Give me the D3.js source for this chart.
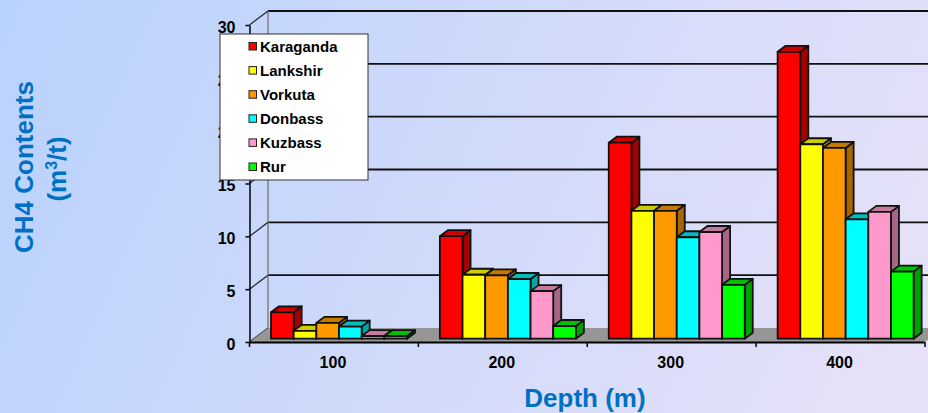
<!DOCTYPE html>
<html>
<head>
<meta charset="utf-8">
<script src="https://cdn.jsdelivr.net/npm/d3@7"></script>
<style>
html, body { margin: 0; padding: 0; overflow: hidden; }
text { font-family: "Liberation Sans", Arial, sans-serif; font-weight: bold; }
</style>
</head>
<body>
<div id="chart"></div>
<script>
var depths = ['100', '200', '300', '400'];
var basins = ['Karaganda', 'Lankshir', 'Vorkuta', 'Donbass', 'Kuzbass', 'Rur'];
var yTicks = [0, 5, 10, 15, 20, 25, 30];

var karaganda = [2.5, 9.7, 18.55, 27.15];
var lankshir = [0.75, 6.05, 12.1, 18.4];
var vorkuta = [1.5, 6.0, 12.1, 18.05];
var donbass = [1.15, 5.65, 9.6, 11.3];
var kuzbass = [0.25, 4.5, 10.1, 12.0];
var rur = [0.25, 1.2, 5.1, 6.35];
var seriesValues = [karaganda, lankshir, vorkuta, donbass, kuzbass, rur];

var fronts = ['#ff0000', '#ffff00', '#ff9900', '#00ffff', '#ff99cc', '#00ff00'];
var tops = ['#cc0000', '#cccc00', '#c47a00', '#00bcbc', '#c47a9e', '#00c000'];
var sides = ['#a50000', '#a5a500', '#a86500', '#00a5a5', '#a66685', '#00a000'];

var width = 928, height = 413;
var wallDx = 18.5, wallDy = 14;   // floor depth of the 3d box
var barDx = 8, barDy = 6;         // depth of a single bar

var x = d3.scaleBand().domain(depths).range([249.5, 925]);
var xBar = d3.scaleBand().domain(basins).range([0, 136]);
var y = d3.scaleLinear().domain([0, 30]).range([342, 25]);

var svg = d3.select('#chart').append('svg')
    .attr('width', width)
    .attr('height', height)
    .style('display', 'block');

var grad = svg.append('defs').append('linearGradient')
    .attr('id', 'bg')
    .attr('gradientUnits', 'userSpaceOnUse')
    .attr('x1', 0).attr('y1', 0)
    .attr('x2', width).attr('y2', height);
grad.append('stop').attr('offset', '0%').attr('stop-color', '#b9d2fd');
grad.append('stop').attr('offset', '100%').attr('stop-color', '#e8e2f8');

svg.append('rect')
    .attr('width', width)
    .attr('height', height)
    .attr('fill', 'url(#bg)');

// back wall lines
var wall = svg.append('g');
wall.selectAll('line.grid')
    .data(yTicks.slice(1))
    .enter()
    .append('line')
    .attr('class', 'grid')
    .attr('x1', 249.5 + wallDx)
    .attr('x2', width)
    .attr('y1', function(d) { return y(d) - wallDy; })
    .attr('y2', function(d) { return y(d) - wallDy; })
    .attr('stroke', '#111')
    .attr('stroke-width', 1.8);

wall.append('line')
    .attr('x1', 249.5 + wallDx).attr('x2', 249.5 + wallDx)
    .attr('y1', y(30) - wallDy).attr('y2', y(0) - wallDy)
    .attr('stroke', '#808080')
    .attr('stroke-width', 1.5);

// side wall diagonals
wall.selectAll('line.diag')
    .data(yTicks)
    .enter()
    .append('line')
    .attr('class', 'diag')
    .attr('x1', 249.5)
    .attr('x2', 249.5 + wallDx)
    .attr('y1', function(d) { return y(d); })
    .attr('y2', function(d) { return y(d) - wallDy; })
    .attr('stroke', '#222')
    .attr('stroke-width', 1.2);

// floor
var floorPts = [[249.5, y(0)], [925, y(0)], [925 + wallDx, y(0) - wallDy], [249.5 + wallDx, y(0) - wallDy]];
svg.append('path')
    .attr('d', d3.line()(floorPts) + 'Z')
    .attr('fill', '#969696');

// axes
var yAxis = svg.append('g')
    .attr('transform', 'translate(249.5,0)')
    .call(d3.axisLeft(y).tickValues(yTicks).tickSize(4).tickSizeOuter(0).tickPadding(10));
yAxis.selectAll('path, line').attr('stroke', '#000').attr('stroke-width', 1.5);
yAxis.selectAll('text').attr('font-size', 16).attr('dy', '0.45em').attr('fill', '#000');

var xAxis = svg.append('g')
    .attr('transform', 'translate(-1,' + y(0) + ')')
    .call(d3.axisBottom(x).tickSize(0).tickPadding(15));
xAxis.select('.domain').attr('stroke', '#000').attr('stroke-width', 1.8);
xAxis.selectAll('text').attr('font-size', 16).attr('fill', '#000');

xAxis.selectAll('line.boundary')
    .data(depths.concat(['end']))
    .enter()
    .append('line')
    .attr('class', 'boundary')
    .attr('x1', function(d, i) { return 250.5 + i * x.step(); })
    .attr('x2', function(d, i) { return 250.5 + i * x.step(); })
    .attr('y1', 0)
    .attr('y2', 5)
    .attr('stroke', '#000')
    .attr('stroke-width', 1.5);

// bars, left to right so each front covers the side of the one before
var barInsetX = 21.5, barInsetY = 3.3;
var bars = svg.append('g');

basins.forEach(function(b, si) {
    seriesValues[si].forEach(function(v, di) {
        var x0 = x(depths[di]) + barInsetX + xBar(b);
        var w = xBar.bandwidth();
        var top = y(v) - barInsetY;
        var base = y(0) - barInsetY;
        var g = bars.append('g')
            .attr('stroke', '#111')
            .attr('stroke-width', 1.8)
            .attr('stroke-linejoin', 'round');

        g.append('path')
            .attr('fill', sides[si])
            .attr('d', d3.line()([[x0 + w, top], [x0 + w + barDx, top - barDy], [x0 + w + barDx, base - barDy], [x0 + w, base]]) + 'Z');
        g.append('path')
            .attr('fill', tops[si])
            .attr('d', d3.line()([[x0, top], [x0 + barDx, top - barDy], [x0 + w + barDx, top - barDy], [x0 + w, top]]) + 'Z');
        g.append('rect')
            .attr('x', x0)
            .attr('y', top)
            .attr('width', w)
            .attr('height', base - top)
            .attr('fill', fronts[si]);
    });
});

// axis titles
svg.append('text')
    .attr('x', 585)
    .attr('y', 407)
    .attr('text-anchor', 'middle')
    .attr('font-size', 26)
    .attr('fill', '#0070c4')
    .text('Depth (m)');

svg.append('text')
    .attr('transform', 'translate(33,167) rotate(-90)')
    .attr('text-anchor', 'middle')
    .attr('font-size', 26)
    .attr('fill', '#0070c4')
    .text('CH4 Contents');

var unit = svg.append('text')
    .attr('transform', 'translate(66,169) rotate(-90)')
    .attr('text-anchor', 'middle')
    .attr('font-size', 26)
    .attr('fill', '#0070c4');
unit.append('tspan').text('(m');
unit.append('tspan').attr('dy', -9).attr('font-size', 16).text('3');
unit.append('tspan').attr('dy', 9).text('/t)');

// legend
var legend = svg.append('g');
legend.append('rect')
    .attr('x', 220).attr('y', 34)
    .attr('width', 148).attr('height', 146)
    .attr('fill', '#fff')
    .attr('stroke', '#333')
    .attr('stroke-width', 1);

var legendY = d3.scalePoint().domain(basins).range([46.5, 167]);
var row = legend.selectAll('g.row')
    .data(basins)
    .enter()
    .append('g')
    .attr('class', 'row')
    .attr('transform', function(d) { return 'translate(0,' + legendY(d) + ')'; });
row.append('rect')
    .attr('x', 249).attr('y', -4)
    .attr('width', 7.5).attr('height', 7.5)
    .attr('fill', function(d, i) { return fronts[i]; })
    .attr('stroke', '#222')
    .attr('stroke-width', 1);
row.append('text')
    .attr('x', 260)
    .attr('y', 5)
    .attr('font-size', 15)
    .attr('fill', '#000')
    .text(function(d) { return d; });
</script>
</body>
</html>
